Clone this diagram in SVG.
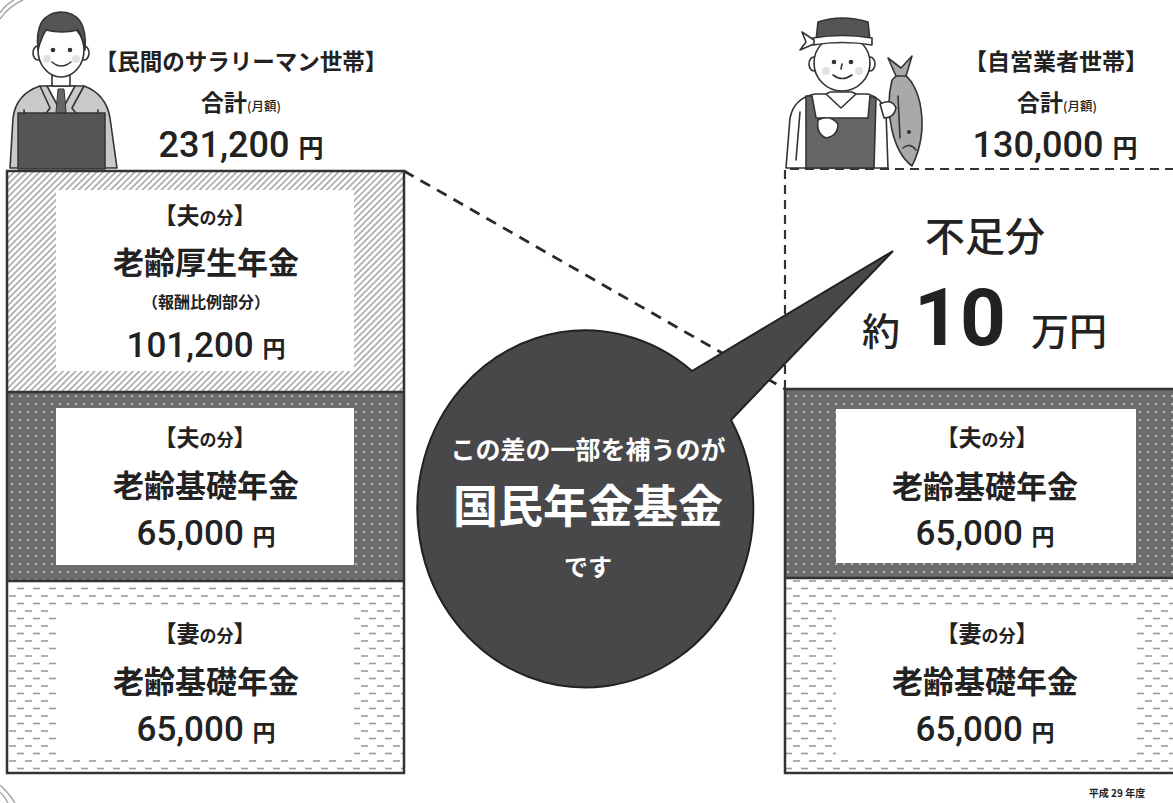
<svg xmlns="http://www.w3.org/2000/svg" width="1173" height="803" viewBox="0 0 1173 803">
  <defs>
    <pattern id="hatch" width="4.5" height="4.5" patternUnits="userSpaceOnUse" patternTransform="rotate(45)">
      <rect width="4.5" height="4.5" fill="#ffffff"/>
      <line x1="1" y1="0" x2="1" y2="4.5" stroke="#9a9a9a" stroke-width="1.4"/>
    </pattern>
    <pattern id="dots" width="8" height="8" patternUnits="userSpaceOnUse">
      <rect width="8" height="8" fill="#6c6c6e"/>
      <rect x="3" y="3" width="2.2" height="2.2" fill="#b4b4b4"/>
    </pattern>
    <pattern id="dashes" width="16" height="15" patternUnits="userSpaceOnUse">
      <rect width="16" height="15" fill="#ffffff"/>
      <line x1="1" y1="3.5" x2="8" y2="3.5" stroke="#9c9c9c" stroke-width="1.6"/>
      <line x1="9" y1="11" x2="16" y2="11" stroke="#9c9c9c" stroke-width="1.6"/>
    </pattern>
    <style>
      .jp { font-family: "Noto Sans CJK JP", "Noto Sans", sans-serif; fill: #222; }
      .num { font-family: Roboto, "Liberation Sans", Arial, sans-serif; fill: #222; }
      .b { font-weight: 700; }
      .m { font-weight: 500; }
      .frame { fill: none; stroke: #333; stroke-width: 2.5; }
      .div { stroke: #333; stroke-width: 2.5; }
      .inner { fill: #ffffff; }
      .ink { stroke: #333; stroke-width: 1.6; stroke-linejoin: round; stroke-linecap: round; }
      .wt { fill: #ffffff; font-family: "Noto Sans CJK JP", "Noto Sans", sans-serif; }
    </style>
  </defs>

  <rect width="1173" height="803" fill="#ffffff"/>

  <!-- corner ornaments of the page frame -->
  <g fill="none" stroke="#a8a8a8" stroke-width="1.5">
    <path d="M0,19 Q9,6 23,0"/>
    <path d="M0,13 Q5,5 14,0"/>
    <path d="M0,785 Q9,793 15,803"/>
    <path d="M0,792 Q5,797 8,803"/>
  </g>

  <!-- connectors -->
  <g id="connectors">
    <line x1="404" y1="171" x2="785" y2="389" stroke="#2a2a2a" stroke-width="2.8" stroke-dasharray="11 8"/>
  </g>

  <!-- salaried household -->
  <g id="salaryman">
    <path class="ink" d="M10,168 L13,118 Q16,94 40,86 L84,86 Q106,94 110,118 L117,168 Z" fill="#c9c9c9"/>
    <path class="ink" d="M47,86 L61,112 L75,86 Z" fill="#ffffff"/>
    <path d="M58,89 L64,89 L66,112 L61,118 L56,112 Z" fill="#666" stroke="#333" stroke-width="1"/>
    <path class="ink" fill="none" d="M40,86 L50,108 L44,116 M84,86 L72,108 L78,116 M24,110 L28,150 M98,110 L95,150"/>
    <rect class="ink" x="52" y="72" width="18" height="14" fill="#ffffff"/>
    <ellipse class="ink" cx="38" cy="53" rx="5" ry="7" fill="#ffffff"/>
    <ellipse class="ink" cx="84" cy="53" rx="5" ry="7" fill="#ffffff"/>
    <ellipse class="ink" cx="61" cy="50" rx="23" ry="27" fill="#ffffff"/>
    <path class="ink" d="M38,50 Q34,14 60,12 Q88,12 85,50 Q82,36 78,30 Q62,34 46,30 Q41,38 38,50 Z" fill="#555"/>
    <circle cx="53" cy="50" r="2.3" fill="#333"/>
    <circle cx="70" cy="50" r="2.3" fill="#333"/>
    <circle cx="47" cy="59" r="4" fill="#e2e2e2"/>
    <circle cx="76" cy="59" r="4" fill="#e2e2e2"/>
    <path class="ink" fill="none" d="M52,62 Q61,70 71,62"/>
    <rect x="18" y="113" width="87" height="56" fill="#555557" stroke="#333" stroke-width="1.5"/>
  </g>

  <!-- self-employed household -->
  <g id="shopkeeper">
    <path class="ink" d="M786,168 L790,118 Q794,98 815,94 L868,94 Q882,98 886,112 L888,168 Z" fill="#ffffff"/>
    <path class="ink" d="M806,96 L812,96 L816,118 L868,118 L870,96 L876,98 L874,168 L806,168 Z" fill="#666"/>
    <path class="ink" fill="#ffffff" d="M826,94 L841,108 L856,94 L852,92 L830,92 Z"/>
    <path class="ink" d="M818,120 Q830,114 838,124 Q838,136 826,138 Q816,134 818,120 Z" fill="#ffffff"/>
    <path class="ink" fill="none" d="M800,112 L796,160"/>
    <ellipse class="ink" cx="814" cy="64" rx="5" ry="7" fill="#ffffff"/>
    <ellipse class="ink" cx="870" cy="64" rx="5" ry="7" fill="#ffffff"/>
    <ellipse class="ink" cx="842" cy="63" rx="28" ry="28" fill="#ffffff"/>
    <path class="ink" d="M816,40 L818,22 Q842,14 868,22 L870,40 Z" fill="#555"/>
    <path class="ink" d="M813,38 Q842,33 872,38 L872,45 Q842,40 813,45 Z" fill="#ffffff"/>
    <path class="ink" d="M814,40 L802,32 L806,42 L800,50 L814,44 Z" fill="#ffffff"/>
    <circle cx="834" cy="62" r="2.3" fill="#333"/>
    <circle cx="851" cy="62" r="2.3" fill="#333"/>
    <circle cx="826" cy="71" r="4" fill="#e2e2e2"/>
    <circle cx="859" cy="71" r="4" fill="#e2e2e2"/>
    <path class="ink" fill="none" d="M842,64 L841,69 M833,75 Q842,82 852,75"/>
    <path class="ink" d="M900,72 C 922,82 930,130 912,166 C 893,152 884,112 892,80 Z" fill="#a9a9a9"/>
    <path class="ink" d="M896,76 L888,58 L901,68 L912,56 L906,76 Z" fill="#a9a9a9"/>
    <path class="ink" fill="none" d="M898,96 L900,138 M903,148 Q910,142 916,150"/>
    <circle cx="909" cy="132" r="2" fill="#333"/>
    <path class="ink" d="M880,104 Q892,98 896,108 Q894,118 884,118 Z" fill="#ffffff"/>
  </g>

  <!-- header texts -->
  <g id="salaried-header">
    <text class="jp b" x="241" y="70" font-size="22.5" text-anchor="middle">【民間のサラリーマン世帯】</text>
    <text class="jp b" x="241" y="111" font-size="23" text-anchor="middle">合計<tspan font-size="12.5" font-weight="500">(月額)</tspan></text>
    <text x="241" y="157" text-anchor="middle"><tspan class="num m" font-size="36">231,200 </tspan><tspan class="jp b" font-size="25">円</tspan></text>
  </g>
  <g id="selfemployed-header">
    <text class="jp b" x="1056" y="70" font-size="23" text-anchor="middle">【自営業者世帯】</text>
    <text class="jp b" x="1057" y="111" font-size="23" text-anchor="middle">合計<tspan font-size="12.5" font-weight="500">(月額)</tspan></text>
    <text x="1055" y="157" text-anchor="middle"><tspan class="num m" font-size="36">130,000 </tspan><tspan class="jp b" font-size="25">円</tspan></text>
  </g>

  <!-- salaried household column -->
  <g id="left-employee-pension">
    <rect x="7" y="171" width="397" height="221" fill="url(#hatch)"/>
    <rect class="inner" x="56" y="190" width="298" height="181"/>
    <text class="jp b" x="205" y="224" font-size="23" text-anchor="middle">【夫<tspan font-size="17">の分</tspan>】</text>
    <text class="jp b" x="206" y="274" font-size="31" text-anchor="middle">老齢厚生年金</text>
    <text class="jp b" x="206" y="308" font-size="16" text-anchor="middle">（報酬比例部分）</text>
    <text x="206" y="357" text-anchor="middle"><tspan class="num m" font-size="35">101,200 </tspan><tspan class="jp b" font-size="23">円</tspan></text>
  </g>
  <g id="left-husband-basic">
    <rect x="7" y="392" width="397" height="189" fill="url(#dots)"/>
    <rect class="inner" x="56" y="408" width="298" height="157"/>
    <text class="jp b" x="205" y="446" font-size="23" text-anchor="middle">【夫<tspan font-size="17">の分</tspan>】</text>
    <text class="jp b" x="206" y="497" font-size="31" text-anchor="middle">老齢基礎年金</text>
    <text x="206" y="545" text-anchor="middle"><tspan class="num m" font-size="35">65,000 </tspan><tspan class="jp b" font-size="23">円</tspan></text>
  </g>
  <g id="left-wife-basic">
    <rect x="7" y="581" width="397" height="192" fill="url(#dashes)"/>
    <rect class="inner" x="56" y="607" width="298" height="149"/>
    <text class="jp b" x="205" y="642" font-size="23" text-anchor="middle">【妻<tspan font-size="17">の分</tspan>】</text>
    <text class="jp b" x="206" y="693" font-size="31" text-anchor="middle">老齢基礎年金</text>
    <text x="206" y="741" text-anchor="middle"><tspan class="num m" font-size="35">65,000 </tspan><tspan class="jp b" font-size="23">円</tspan></text>
  </g>
  <g id="left-frame">
    <rect class="frame" x="7" y="171" width="397" height="602"/>
    <line class="div" x1="7" y1="392" x2="404" y2="392"/>
    <line class="div" x1="7" y1="581" x2="404" y2="581"/>
  </g>

  <!-- self-employed household column -->
  <g id="right-shortfall">
    <path d="M785,389 L785,169 L1173,169" fill="none" stroke="#333" stroke-width="2.2" stroke-dasharray="9 6"/>
    <text class="jp m" x="985" y="251" font-size="40" text-anchor="middle">不足分</text>
    <text class="jp m" x="881" y="345" font-size="38" text-anchor="middle">約</text>
    <text class="num b" x="960" y="345" font-size="80" text-anchor="middle">10</text>
    <text class="jp m" x="1069" y="345" font-size="38" text-anchor="middle">万円</text>
  </g>
  <g id="right-husband-basic">
    <rect x="785" y="389" width="390" height="189" fill="url(#dots)"/>
    <rect class="inner" x="836" y="409" width="300" height="154"/>
    <text class="jp b" x="987" y="446" font-size="23" text-anchor="middle">【夫<tspan font-size="17">の分</tspan>】</text>
    <text class="jp b" x="985" y="498" font-size="31" text-anchor="middle">老齢基礎年金</text>
    <text x="985" y="545" text-anchor="middle"><tspan class="num m" font-size="35">65,000 </tspan><tspan class="jp b" font-size="23">円</tspan></text>
  </g>
  <g id="right-wife-basic">
    <rect x="785" y="578" width="390" height="195" fill="url(#dashes)"/>
    <rect class="inner" x="836" y="606" width="300" height="150"/>
    <text class="jp b" x="987" y="642" font-size="23" text-anchor="middle">【妻<tspan font-size="17">の分</tspan>】</text>
    <text class="jp b" x="985" y="693" font-size="31" text-anchor="middle">老齢基礎年金</text>
    <text x="985" y="741" text-anchor="middle"><tspan class="num m" font-size="35">65,000 </tspan><tspan class="jp b" font-size="23">円</tspan></text>
  </g>
  <g id="right-frame">
    <path class="frame" d="M1175,389 L785,389 L785,773 L1175,773"/>
    <line class="div" x1="785" y1="578" x2="1175" y2="578"/>
  </g>

  <!-- speech bubble -->
  <g id="bubble">
    <path d="M692,371 L893,251 L731,420 A168,178.5 0 1 1 692,371 Z" fill="#48484a" stroke="#222" stroke-width="2"/>
    <text class="wt b" x="588" y="459" font-size="25" text-anchor="middle">この差の一部を補うのが</text>
    <text class="wt b" x="588" y="523" font-size="45" text-anchor="middle">国民年金基金</text>
    <text class="wt b" x="588" y="576" font-size="24" text-anchor="middle">です</text>
  </g>

  <text class="jp b" x="1117" y="797" font-size="10" text-anchor="middle">平成 29 年度</text>
</svg>
